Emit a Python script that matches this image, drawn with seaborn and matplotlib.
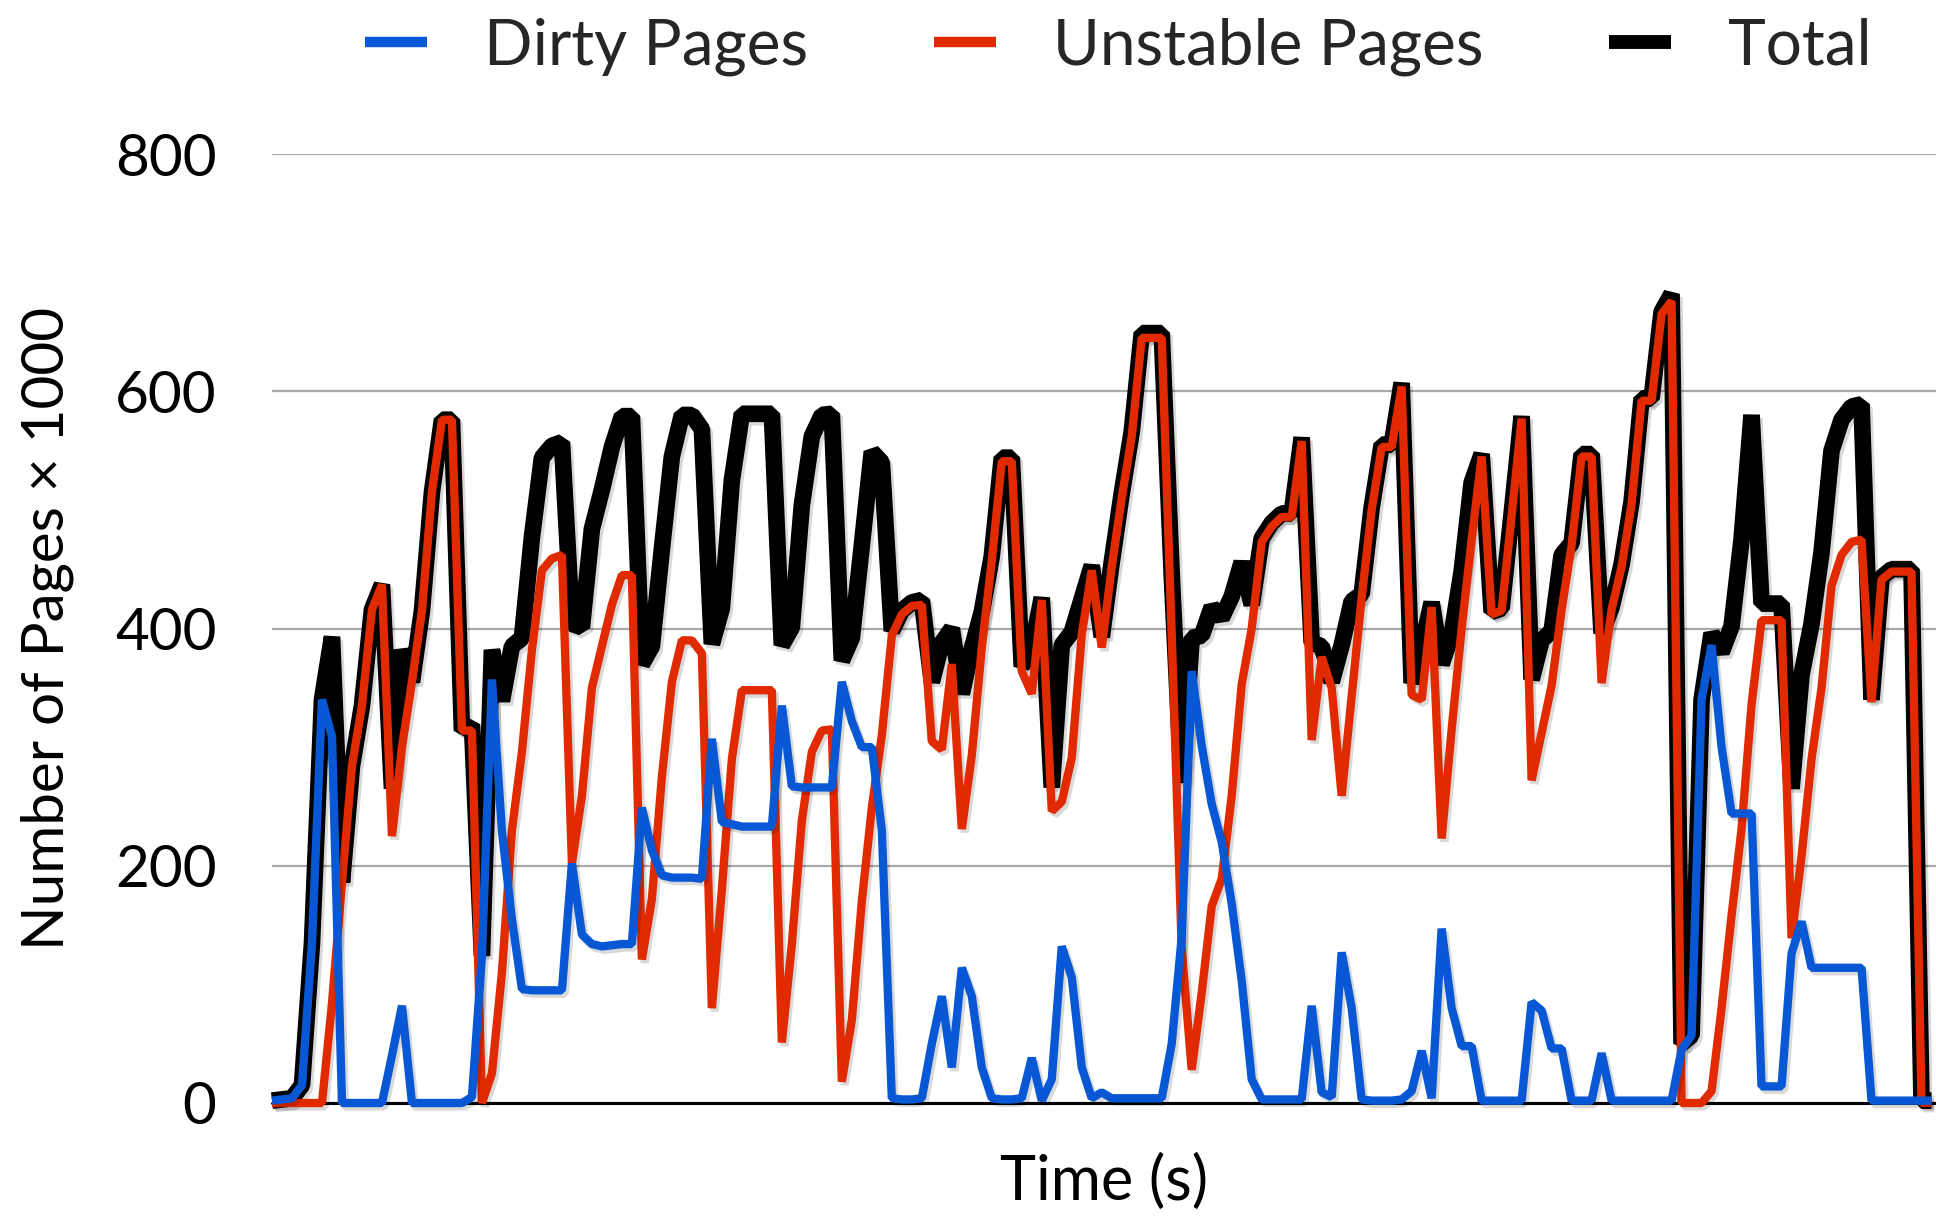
import matplotlib
matplotlib.use("Agg")
import matplotlib.pyplot as plt
import matplotlib.patheffects as pe
from matplotlib.lines import Line2D
import seaborn as sns

# ---------------- data ----------------
dirty_pages = [
    2, 3, 4, 15, 135, 340, 309, 0, 0, 0,
    0, 0, 40, 82, 0, 0, 0, 0, 0, 0,
    5, 124, 357, 229, 155, 96, 95, 95, 95, 95,
    202, 142, 134, 132, 133, 134, 134, 249, 213, 192,
    190, 190, 190, 189, 307, 237, 235, 233, 233, 233,
    233, 335, 267, 266, 266, 266, 266, 355, 322, 300,
    300, 230, 4, 3, 3, 4, 50, 90, 30, 114,
    90, 30, 4, 3, 3, 4, 38, 2, 20, 132,
    106, 30, 4, 9, 4, 4, 4, 4, 4, 4,
    50, 140, 364, 301, 252, 220, 168, 103, 20, 3,
    3, 3, 3, 3, 82, 9, 5, 127, 80, 3,
    2, 2, 2, 3, 10, 44, 4, 147, 80, 48,
    48, 2, 2, 2, 2, 2, 85, 78, 46, 46,
    2, 2, 2, 42, 2, 2, 2, 2, 2, 2,
    2, 45, 57, 340, 386, 300, 244, 244, 244, 14,
    14, 14, 126, 153, 114, 114, 114, 114, 114, 114,
    2, 2, 2, 2, 2, 2, 2,
]

unstable_pages = [
    0, 0, 0, 0, 0, 0, 84, 186, 284, 335,
    416, 437, 225, 300, 355, 415, 515, 576, 576, 314,
    314, 0, 25, 110, 230, 296, 382, 449, 459, 462,
    202, 259, 350, 385, 420, 445, 445, 121, 172, 275,
    355, 390, 390, 379, 80, 180, 290, 348, 348, 348,
    348, 51, 134, 238, 296, 314, 315, 18, 70, 170,
    249, 310, 394, 412, 419, 420, 305, 298, 370, 231,
    293, 384, 457, 541, 541, 364, 345, 424, 246, 254,
    291, 395, 449, 384, 452, 510, 562, 645, 645, 645,
    395, 130, 28, 93, 166, 189, 259, 353, 400, 473,
    486, 494, 494, 558, 306, 376, 350, 259, 343, 426,
    500, 553, 553, 604, 344, 340, 418, 223, 315, 400,
    475, 545, 412, 415, 495, 577, 272, 312, 352, 416,
    470, 545, 545, 354, 416, 452, 505, 592, 592, 665,
    676, 0, 0, 0, 10, 80, 158, 231, 336, 407,
    407, 407, 139, 208, 290, 350, 436, 462, 473, 475,
    338, 441, 448, 448, 448, 0, 0,
]

total_pages = [
    2, 3, 4, 15, 135, 340, 393, 186, 284, 335,
    416, 437, 265, 382, 355, 415, 515, 576, 576, 314,
    319, 124, 382, 339, 385, 392, 477, 544, 554, 557,
    404, 401, 484, 517, 553, 579, 579, 370, 385, 467,
    545, 580, 580, 568, 387, 417, 525, 581, 581, 581,
    581, 386, 401, 504, 562, 580, 581, 373, 392, 470,
    549, 540, 398, 415, 422, 424, 355, 388, 400, 345,
    383, 414, 461, 544, 544, 368, 383, 426, 266, 386,
    397, 425, 453, 393, 456, 514, 566, 649, 649, 649,
    445, 270, 392, 394, 418, 409, 427, 456, 420, 476,
    489, 497, 497, 561, 388, 385, 355, 386, 423, 429,
    502, 555, 555, 607, 354, 384, 422, 370, 395, 448,
    523, 547, 414, 417, 497, 579, 357, 390, 398, 462,
    472, 547, 547, 396, 418, 454, 507, 594, 594, 667,
    682, 50, 57, 340, 396, 380, 402, 475, 580, 421,
    421, 421, 265, 361, 404, 464, 550, 576, 587, 589,
    340, 443, 450, 450, 450, 2, 2,
]

series_names = ["Dirty Pages", "Unstable Pages", "Total"]
y_ticks = [0, 200, 400, 600, 800]
time_s = list(range(len(total_pages)))

# ---------------- styling ----------------
sns.set_theme(style="white")
plt.rcParams['font.family'] = ['Lato', 'DejaVu Sans']

W, H = 1936, 1216
fig = plt.figure(figsize=(W / 100, H / 100), dpi=100)
ax = fig.add_axes([272 / W, 113 / H, 1 - 272 / W, 949 / H])

colors = {"Dirty Pages": "#0858d6", "Unstable Pages": "#e12a00", "Total": "#000000"}
widths = {"Dirty Pages": 6.0, "Unstable Pages": 6.0, "Total": 12.0}
values = {"Dirty Pages": dirty_pages, "Unstable Pages": unstable_pages, "Total": total_pages}

shadow = [pe.SimpleLineShadow(offset=(2, -2.5), shadow_color='black', alpha=0.15), pe.Normal()]

# draw Total first, then Unstable, then Dirty on top
for z, name in enumerate(["Total", "Unstable Pages", "Dirty Pages"]):
    sns.lineplot(x=time_s, y=values[name], color=colors[name],
                 linewidth=widths[name], ax=ax, legend=False)
    ln = ax.lines[-1]
    ln.set_linewidth(widths[name])
    ln.set_solid_joinstyle('bevel')
    ln.set_solid_capstyle('butt')
    ln.set_clip_on(False)
    ln.set_zorder(3 + z)
    ln.set_path_effects(shadow)

ax.set_xlim(0, 166.45)
ax.set_ylim(0, 800)
ax.set_yticks(y_ticks)
ax.set_yticklabels([str(v) for v in y_ticks])
ax.set_xticks([])
ax.yaxis.grid(True, color='#a9a9a9', linewidth=1.6, zorder=0)
ax.xaxis.grid(False)
ax.set_axisbelow(True)
for s in ax.spines.values():
    s.set_visible(False)
ax.axhline(0, color='black', linewidth=2.2, zorder=2, clip_on=False)
ax.tick_params(axis='y', length=0, pad=40, labelsize=42, colors='black')

ax.set_xlabel("Time (s)", fontsize=44, color='black')
ax.xaxis.set_label_coords(0.5, -0.084)
ax.xaxis.label.set_verticalalignment('center')
ax.set_ylabel("Number of Pages × 1000", fontsize=42, color='black')
ax.yaxis.set_label_coords(-0.1352, 0.5)
ax.yaxis.label.set_verticalalignment('center')
ax.yaxis.label.set_horizontalalignment('center')

handles = [Line2D([], [], color=colors[n], linewidth=(10 if n == "Total" else 7.5),
                  solid_capstyle='butt') for n in series_names]
fig.legend(handles, series_names, loc='center left',
           bbox_to_anchor=(365 / W, 1 - 47 / H), bbox_transform=fig.transFigure,
           ncol=3, frameon=False, fontsize=46, handlelength=0.97,
           handletextpad=0.89, columnspacing=1.97, borderpad=0, borderaxespad=0)

fig.savefig("out.png", dpi=100)
